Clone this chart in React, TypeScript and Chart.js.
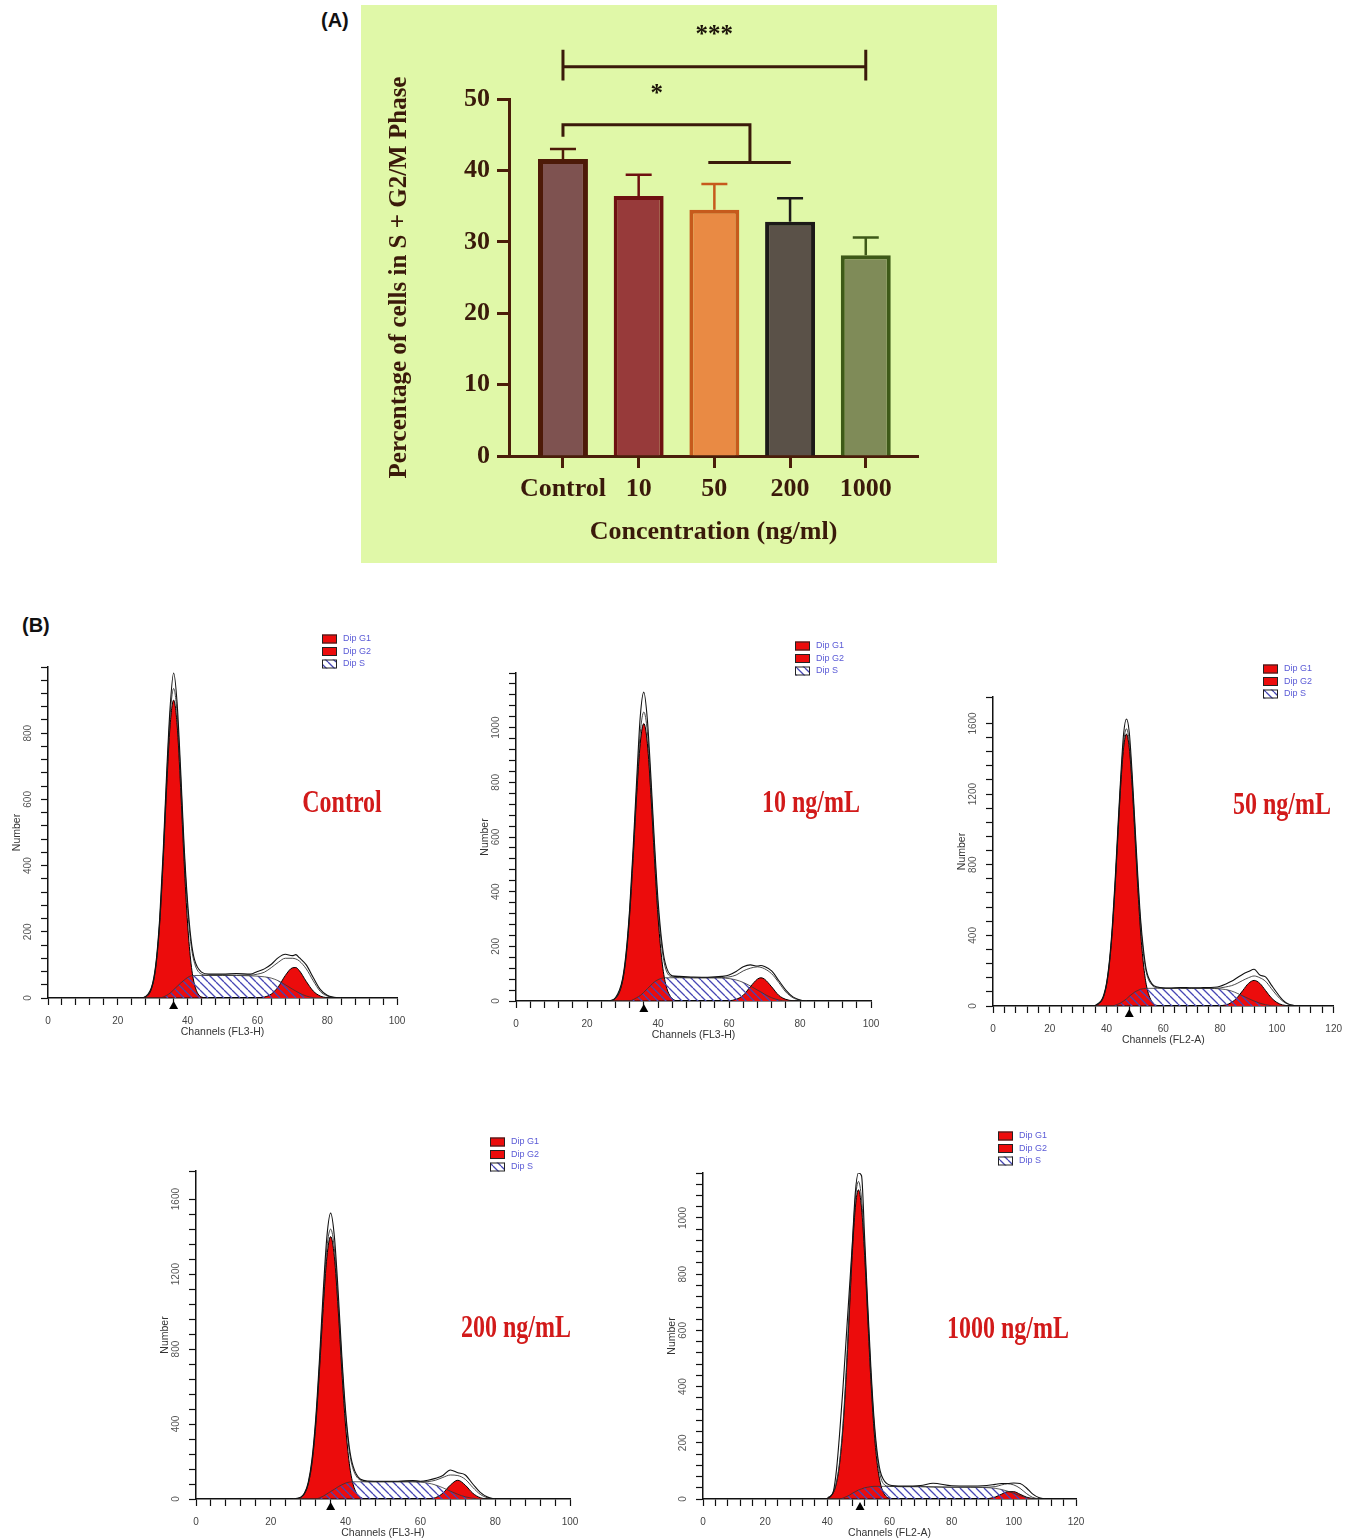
import React, { useEffect, useRef } from 'react';
import { Chart, registerables } from 'chart.js';

Chart.register(...registerables);

const SERIF = '"Liberation Serif", "Times New Roman", serif';
const SANS = '"Liberation Sans", Arial, sans-serif';
const INK = '#3a1a0a';
const AXIS = '#4a1e0a';
const RED = '#ec0c0c';

// ---------------- Panel A data ----------------
const CATEGORIES = ['Control', '10', '50', '200', '1000'];
const MEAN_PCT = [41.6, 36.4, 34.5, 32.8, 28.1];
const SEM_PCT = [1.4, 3.0, 3.6, 3.3, 2.5];
const BAR_FILLS = ['#7e5250', '#973a3a', '#e98a44', '#5a5148', '#7f8b58'];
const BAR_EDGES = ['#4d1a08', '#6e1010', '#c65a1c', '#1c1a18', '#3e5a18'];
const BAR_EDGE_W = [5, 4, 4, 4, 4];
// significance brackets (category positions, percentage levels)
const WIDE_BRACKET = [0, 4, 54.5, 56.9, 52.6]; // from, to, level, capTop, capBottom
const WIDE_STARS = ['***', 2, 59.5];
const NARROW_BRACKET = [0, 2.47, 46.4, 44.7, 41.1, 1.92, 3.01]; // from, to, level, leftLeg, lowLevel, lowFrom, lowTo
const NARROW_STARS = ['*', 1.24, 51.2];

// ---------------- Panel B data ----------------
const LEGEND_NAMES = ['Dip G1', 'Dip G2', 'Dip S'];

const CTRL_CH = [26, 28, 30, 31, 32, 33, 34, 35, 36, 37, 38, 39, 40, 41, 42, 44, 46, 50, 54, 58, 60, 62, 64, 66, 68, 70, 71, 72, 74, 76, 78, 80, 82, 84];
const CTRL_G1 = [0, 3, 40, 103, 224, 412, 636, 825, 900, 825, 636, 412, 224, 103, 40, 3, 0, 0, 0, 0, 0, 0, 0, 0, 0, 0, 0, 0, 0, 0, 0, 0, 0, 0];
const CTRL_S = [0, 0, 0, 0, 0, 3, 8, 15, 25, 35, 45, 54, 62, 67, 68, 68, 68, 68, 68, 67, 66, 64, 60, 52, 40, 27, 21, 15, 6, 1, 0, 0, 0, 0];
const CTRL_G2 = [0, 0, 0, 0, 0, 0, 0, 0, 0, 0, 0, 0, 0, 0, 0, 0, 0, 0, 0, 0, 1, 3, 12, 34, 68, 91, 92, 83, 50, 21, 6, 1, 0, 0];
const CTRL_DATA = [0, 5, 45, 112, 240, 440, 680, 880, 982, 890, 690, 460, 290, 175, 115, 78, 72, 72, 74, 72, 80, 88, 102, 122, 132, 128, 131, 122, 100, 62, 26, 8, 2, 0];
const CTRL_FIT = [0, 4, 43, 108, 232, 428, 660, 855, 935, 858, 668, 445, 270, 160, 105, 72, 69, 69, 69, 69, 72, 78, 92, 108, 120, 120, 118, 112, 88, 52, 20, 6, 1, 0];

const C10_CH = [26, 28, 30, 31, 32, 33, 34, 35, 36, 37, 38, 39, 40, 41, 42, 44, 46, 50, 54, 58, 60, 62, 64, 66, 68, 69, 70, 72, 74, 76, 78, 80, 82];
const C10_G1 = [0, 9, 71, 160, 311, 522, 755, 943, 1015, 943, 755, 522, 311, 160, 71, 9, 0, 0, 0, 0, 0, 0, 0, 0, 0, 0, 0, 0, 0, 0, 0, 0, 0];
const C10_S = [0, 0, 0, 0, 0, 5, 12, 20, 32, 45, 58, 70, 78, 83, 85, 85, 85, 85, 85, 84, 82, 77, 68, 55, 40, 33, 25, 12, 4, 0, 0, 0, 0];
const C10_G2 = [0, 0, 0, 0, 0, 0, 0, 0, 0, 0, 0, 0, 0, 0, 0, 0, 0, 0, 0, 0, 1, 6, 21, 52, 80, 85, 80, 52, 21, 6, 1, 0, 0];
const C10_DATA = [0, 12, 80, 175, 335, 560, 810, 1040, 1130, 1030, 820, 580, 370, 225, 140, 92, 90, 88, 87, 90, 95, 108, 125, 132, 128, 130, 126, 110, 75, 40, 15, 4, 0];
const C10_FIT = [0, 10, 76, 168, 325, 540, 780, 980, 1057, 985, 790, 555, 345, 205, 125, 88, 86, 85, 85, 86, 88, 95, 110, 120, 125, 123, 118, 100, 68, 33, 12, 3, 0];

const C50_CH = [36, 38, 39, 40, 41, 42, 43, 44, 45, 46, 47, 48, 49, 50, 51, 52, 53, 54, 56, 58, 62, 66, 70, 74, 78, 80, 82, 84, 86, 88, 90, 92, 94, 96, 98, 100, 102, 104, 106, 108];
const C50_G1 = [2, 23, 55, 120, 237, 419, 670, 964, 1251, 1462, 1540, 1462, 1251, 964, 670, 419, 237, 120, 23, 3, 0, 0, 0, 0, 0, 0, 0, 0, 0, 0, 0, 0, 0, 0, 0, 0, 0, 0, 0, 0];
const C50_S = [0, 0, 0, 0, 0, 0, 4, 10, 18, 28, 40, 55, 68, 80, 88, 95, 98, 100, 100, 100, 100, 100, 100, 100, 99, 97, 93, 85, 72, 57, 42, 28, 16, 7, 2, 0, 0, 0, 0, 0];
const C50_G2 = [0, 0, 0, 0, 0, 0, 0, 0, 0, 0, 0, 0, 0, 0, 0, 0, 0, 0, 0, 0, 0, 0, 0, 0, 0, 2, 6, 20, 47, 88, 128, 145, 128, 88, 47, 20, 6, 2, 0, 0];
const C50_DATA = [3, 28, 62, 130, 255, 445, 705, 1010, 1300, 1540, 1625, 1550, 1320, 1030, 740, 490, 320, 205, 125, 108, 102, 105, 103, 104, 106, 112, 125, 140, 160, 180, 195, 208, 175, 165, 120, 75, 35, 12, 3, 0];
const C50_FIT = [2, 25, 58, 125, 245, 432, 688, 985, 1275, 1490, 1570, 1495, 1285, 1000, 710, 465, 295, 190, 118, 104, 100, 100, 100, 100, 100, 102, 108, 115, 128, 145, 160, 170, 160, 140, 100, 60, 28, 10, 2, 0];

const C200_CH = [26, 28, 29, 30, 31, 32, 33, 34, 35, 36, 37, 38, 39, 40, 41, 42, 44, 46, 50, 54, 58, 60, 62, 64, 66, 68, 70, 72, 74, 76, 78, 80];
const C200_G1 = [0, 8, 28, 79, 189, 389, 682, 1017, 1292, 1400, 1292, 1017, 682, 389, 189, 79, 8, 0, 0, 0, 0, 0, 0, 0, 0, 0, 0, 0, 0, 0, 0, 0];
const C200_S = [0, 0, 0, 0, 0, 0, 6, 15, 27, 40, 52, 65, 76, 85, 90, 92, 92, 92, 92, 92, 92, 90, 85, 75, 60, 42, 25, 12, 4, 0, 0, 0];
const C200_G2 = [0, 0, 0, 0, 0, 0, 0, 0, 0, 0, 0, 0, 0, 0, 0, 0, 0, 0, 0, 0, 0, 0, 1, 7, 31, 74, 100, 74, 31, 7, 1, 0];
const C200_DATA = [0, 10, 32, 88, 210, 425, 740, 1100, 1400, 1525, 1400, 1110, 760, 470, 275, 175, 105, 96, 95, 95, 98, 95, 100, 110, 125, 155, 140, 128, 80, 35, 10, 0];
const C200_FIT = [0, 9, 30, 84, 200, 408, 712, 1058, 1340, 1440, 1335, 1060, 730, 445, 255, 160, 100, 92, 92, 92, 92, 92, 93, 100, 115, 128, 125, 105, 62, 25, 6, 0];

const C1000_CH = [40, 42, 43, 44, 45, 46, 47, 48, 49, 50, 51, 52, 53, 54, 55, 56, 57, 58, 60, 64, 70, 74, 80, 86, 90, 94, 96, 98, 100, 102, 104, 106, 108, 110];
const C1000_G1 = [3, 24, 60, 130, 249, 425, 644, 867, 1036, 1100, 1036, 867, 644, 425, 249, 130, 60, 24, 3, 0, 0, 0, 0, 0, 0, 0, 0, 0, 0, 0, 0, 0, 0, 0];
const C1000_S = [0, 0, 0, 0, 3, 8, 13, 20, 26, 32, 36, 40, 42, 44, 45, 45, 45, 45, 45, 44, 44, 43, 42, 42, 41, 38, 34, 28, 20, 12, 5, 1, 0, 0];
const C1000_G2 = [0, 0, 0, 0, 0, 0, 0, 0, 0, 0, 0, 0, 0, 0, 0, 0, 0, 0, 0, 0, 0, 0, 0, 0, 0, 7, 17, 26, 26, 17, 7, 2, 0, 0];
const C1000_DATA = [0, 30, 110, 240, 390, 560, 730, 900, 1090, 1160, 1150, 930, 690, 470, 290, 170, 100, 70, 50, 46, 48, 56, 47, 46, 47, 52, 55, 55, 57, 55, 40, 18, 5, 0];
const C1000_FIT = [3, 26, 64, 138, 262, 445, 670, 895, 1065, 1130, 1068, 895, 670, 450, 275, 155, 85, 55, 45, 44, 44, 43, 42, 42, 42, 44, 50, 54, 50, 38, 20, 6, 1, 0];

type PanelCfg = {
  area: number[]; // [left, top, right, bottom] of plot area on the page
  ch: number[]; g1: number[]; s: number[]; g2: number[]; data: number[]; fit: number[];
  xMax: number; yMax: number; yMinor: number; yMajor: number;
  xTitle: string; label: string; labelPos: number[]; legendPos: number[]; marker: number;
};

const PANELS: PanelCfg[] = [
  { area: [48, 667, 397, 998], ch: CTRL_CH, g1: CTRL_G1, s: CTRL_S, g2: CTRL_G2, data: CTRL_DATA, fit: CTRL_FIT,
    xMax: 100, yMax: 1000, yMinor: 40, yMajor: 200, xTitle: 'Channels (FL3-H)', label: 'Control',
    labelPos: [342, 804], legendPos: [322, 639], marker: 36 },
  { area: [516, 673, 871, 1001], ch: C10_CH, g1: C10_G1, s: C10_S, g2: C10_G2, data: C10_DATA, fit: C10_FIT,
    xMax: 100, yMax: 1200, yMinor: 40, yMajor: 200, xTitle: 'Channels (FL3-H)', label: '10 ng/mL',
    labelPos: [811, 804], legendPos: [795, 646], marker: 36 },
  { area: [993, 697, 1336, 1006], ch: C50_CH, g1: C50_G1, s: C50_S, g2: C50_G2, data: C50_DATA, fit: C50_FIT,
    xMax: 120, yMax: 1750, yMinor: 80, yMajor: 400, xTitle: 'Channels (FL2-A)', label: '50 ng/mL',
    labelPos: [1282, 806], legendPos: [1263, 669], marker: 48 },
  { area: [196, 1171, 570, 1499], ch: C200_CH, g1: C200_G1, s: C200_S, g2: C200_G2, data: C200_DATA, fit: C200_FIT,
    xMax: 100, yMax: 1750, yMinor: 80, yMajor: 400, xTitle: 'Channels (FL3-H)', label: '200 ng/mL',
    labelPos: [516, 1329], legendPos: [490, 1142], marker: 36 },
  { area: [703, 1173, 1076, 1499], ch: C1000_CH, g1: C1000_G1, s: C1000_S, g2: C1000_G2, data: C1000_DATA, fit: C1000_FIT,
    xMax: 120, yMax: 1160, yMinor: 40, yMajor: 200, xTitle: 'Channels (FL2-A)', label: '1000 ng/mL',
    labelPos: [1008, 1330], legendPos: [998, 1136], marker: 50.5 },
];

function makeHatch(ctx: CanvasRenderingContext2D) {
  const c = document.createElement('canvas');
  c.width = 8; c.height = 8;
  const g = c.getContext('2d')!;
  g.strokeStyle = '#4646b4';
  g.lineWidth = 1.3;
  g.beginPath();
  for (const k of [-8, 0, 8]) { g.moveTo(k, 0); g.lineTo(k + 8, 8); }
  g.stroke();
  return ctx.createPattern(c, 'repeat')!;
}

function PanelA() {
  const ref = useRef<HTMLCanvasElement>(null);
  useEffect(() => {
    const canvas = ref.current!;
    const decor = {
      id: 'panelADecor',
      afterDatasetsDraw(chart: any) {
        const { ctx, scales } = chart;
        const x = scales.x, y = scales.y;
        const meta = chart.getDatasetMeta(0);
        const px = (c: number) => x.getPixelForValue(c);
        const py = (v: number) => y.getPixelForValue(v);
        ctx.save();
        meta.data.forEach((bar: any, i: number) => {
          const top = py(MEAN_PCT[i]);
          const hi = py(MEAN_PCT[i] + SEM_PCT[i]);
          ctx.strokeStyle = BAR_EDGES[i];
          ctx.lineWidth = 2.5;
          ctx.beginPath();
          ctx.moveTo(bar.x, top); ctx.lineTo(bar.x, hi);
          ctx.moveTo(bar.x - 13, hi); ctx.lineTo(bar.x + 13, hi);
          ctx.stroke();
        });
        ctx.strokeStyle = INK;
        ctx.lineWidth = 3;
        ctx.beginPath();
        const [wf, wt, wl, wct, wcb] = WIDE_BRACKET;
        ctx.moveTo(px(wf), py(wct)); ctx.lineTo(px(wf), py(wcb));
        ctx.moveTo(px(wt), py(wct)); ctx.lineTo(px(wt), py(wcb));
        ctx.moveTo(px(wf), py(wl)); ctx.lineTo(px(wt), py(wl));
        const [nf, nt, nl, nleg, nlow, nlf, nlt] = NARROW_BRACKET;
        ctx.moveTo(px(nf), py(nleg)); ctx.lineTo(px(nf), py(nl)); ctx.lineTo(px(nt), py(nl)); ctx.lineTo(px(nt), py(nlow));
        ctx.moveTo(px(nlf), py(nlow)); ctx.lineTo(px(nlt), py(nlow));
        ctx.stroke();
        ctx.fillStyle = '#1a1208';
        ctx.font = `bold 25px ${SERIF}`;
        ctx.textAlign = 'center';
        ctx.textBaseline = 'alphabetic';
        ctx.fillText(String(WIDE_STARS[0]), px(WIDE_STARS[1] as number), py(WIDE_STARS[2] as number) + 11);
        ctx.fillText(String(NARROW_STARS[0]), px(NARROW_STARS[1] as number), py(NARROW_STARS[2] as number) + 11);
        ctx.restore();
      },
    };
    const font = (size: number) => ({ family: SERIF, size, weight: 'bold' as const });
    const chart = new Chart(canvas, {
      type: 'bar',
      data: {
        datasets: [{
          data: CATEGORIES.map((_, i) => ({ x: i, y: MEAN_PCT[i] })),
          backgroundColor: BAR_FILLS,
          borderColor: BAR_EDGES,
          borderWidth: BAR_EDGE_W,
          barPercentage: 0.66,
          categoryPercentage: 1,
        } as any],
      },
      options: {
        animation: false,
        responsive: false,
        devicePixelRatio: 1,
        layout: { padding: { left: 20, top: 94, right: 79, bottom: 7 } },
        plugins: { legend: { display: false }, tooltip: { enabled: false } },
        scales: {
          x: {
            type: 'linear', min: -0.713, max: 4.69, offset: false,
            afterBuildTicks: (s: any) => { s.ticks = CATEGORIES.map((_, i) => ({ value: i })); },
            afterFit: (s: any) => { s.height = 100; },
            ticks: { autoSkip: false, maxRotation: 0, padding: 6, color: INK, font: font(26),
              callback: (v: any) => CATEGORIES[Number(v)] ?? '' },
            grid: { offset: false, drawOnChartArea: false, drawTicks: true, tickLength: 12, tickWidth: 3, tickColor: AXIS },
            border: { display: true, color: AXIS, width: 3 },
            title: { display: true, text: 'Concentration (ng/ml)', color: INK, font: font(26), padding: { top: 0, bottom: 8 } },
          },
          y: {
            min: 0, max: 50,
            afterFit: (s: any) => { s.width = 128; },
            ticks: { stepSize: 10, padding: 7, color: INK, font: font(26) },
            grid: { drawOnChartArea: false, drawTicks: true, tickLength: 12, tickWidth: 3, tickColor: AXIS },
            border: { display: true, color: AXIS, width: 3 },
            title: { display: true, text: 'Percentage of cells in S + G2/M Phase', color: INK, font: font(25), padding: { top: 4, bottom: 0 } },
          },
        },
      } as any,
      plugins: [decor],
    });
    return () => chart.destroy();
  }, []);
  return (
    <div style={{ position: 'absolute', left: 361, top: 5, width: 636, height: 558, background: '#e0f8a8' }}>
      <canvas ref={ref} width={636} height={558} style={{ position: 'absolute', left: 0, top: 0, width: 636, height: 558 }} />
    </div>
  );
}

function FlowPanel({ cfg }: { cfg: PanelCfg }) {
  const ref = useRef<HTMLCanvasElement>(null);
  const [L, T, R, B] = cfg.area;
  const padL = Math.min(55, L);
  const padR = Math.min(20, 1352 - R);
  const left = L - padL;
  const top = T - 45;
  const width = R - L + padL + padR;
  const height = B - T + 90;
  useEffect(() => {
    const canvas = ref.current!;
    const ctx0 = canvas.getContext('2d')!;
    const hatch = makeHatch(ctx0);
    const pts = (arr: number[]) => cfg.ch.map((c, i) => ({ x: c, y: arr[i] }));
    const decor = {
      id: 'flowDecor',
      afterDraw(chart: any) {
        const { ctx, chartArea: ca, scales } = chart;
        const x = scales.x, y = scales.y;
        ctx.save();
        ctx.fillStyle = '#555';
        ctx.font = `10px ${SANS}`;
        ctx.textAlign = 'center';
        ctx.textBaseline = 'middle';
        for (const t of y.ticks) {
          if (t.value % cfg.yMajor !== 0 || t.value >= cfg.yMax) continue;
          const py = y.getPixelForValue(t.value);
          ctx.save();
          ctx.translate(ca.left - 20, py);
          ctx.rotate(-Math.PI / 2);
          ctx.fillText(String(t.value), 0, 0);
          ctx.restore();
        }
        ctx.fillStyle = '#333';
        ctx.font = `10.5px ${SANS}`;
        ctx.save();
        ctx.translate(ca.left - 31, (ca.top + ca.bottom) / 2);
        ctx.rotate(-Math.PI / 2);
        ctx.fillText('Number', 0, 0);
        ctx.restore();
        ctx.fillText(cfg.xTitle, (ca.left + ca.right) / 2, ca.bottom + 34);
        // marker triangle
        const mx = x.getPixelForValue(cfg.marker);
        ctx.fillStyle = '#000';
        ctx.beginPath();
        ctx.moveTo(mx, ca.bottom + 3);
        ctx.lineTo(mx - 4.5, ca.bottom + 11);
        ctx.lineTo(mx + 4.5, ca.bottom + 11);
        ctx.closePath();
        ctx.fill();
        // legend
        const lx = cfg.legendPos[0] - left;
        const ly = cfg.legendPos[1] - top;
        LEGEND_NAMES.forEach((name, i) => {
          const by = ly + i * 12.5 - 4.5;
          if (i < 2) {
            ctx.fillStyle = RED; ctx.fillRect(lx, by, 15, 9);
          } else {
            ctx.fillStyle = '#fff'; ctx.fillRect(lx, by, 15, 9);
            ctx.fillStyle = hatch; ctx.fillRect(lx, by, 15, 9);
          }
          ctx.strokeStyle = '#222'; ctx.lineWidth = 1;
          ctx.strokeRect(lx + 0.5, by + 0.5, 14, 8);
          ctx.fillStyle = '#5a5ad6';
          ctx.font = `9px ${SANS}`;
          ctx.textAlign = 'left';
          ctx.fillText(name, lx + 21, by + 4.5);
        });
        // condition label
        ctx.save();
        ctx.translate(cfg.labelPos[0] - left, cfg.labelPos[1] - top);
        ctx.scale(0.75, 1);
        ctx.font = `bold 32px ${SERIF}`;
        ctx.fillStyle = '#d21a1a';
        ctx.textAlign = 'center';
        ctx.textBaseline = 'middle';
        ctx.fillText(cfg.label, 0, 0);
        ctx.restore();
        ctx.restore();
      },
    };
    const chart = new Chart(canvas, {
      type: 'line',
      data: {
        datasets: [
          { data: pts(cfg.data), borderColor: '#111', borderWidth: 1.1, fill: false },
          { data: pts(cfg.fit), borderColor: '#333', borderWidth: 0.9, fill: false },
          { data: pts(cfg.s), borderColor: '#333', borderWidth: 0.8, fill: 'origin', backgroundColor: hatch },
          { data: pts(cfg.g2), borderColor: '#000', borderWidth: 1, fill: 'origin', backgroundColor: RED },
          { data: pts(cfg.g1), borderColor: '#000', borderWidth: 1, fill: 'origin', backgroundColor: RED },
        ] as any,
      },
      options: {
        animation: false,
        responsive: false,
        devicePixelRatio: 1,
        elements: { point: { radius: 0 }, line: { cubicInterpolationMode: 'monotone' } },
        layout: { padding: { left: 0, top: 45, right: padR, bottom: 0 } },
        plugins: { legend: { display: false }, tooltip: { enabled: false } },
        scales: {
          x: {
            type: 'linear', min: 0, max: cfg.xMax,
            afterFit: (s: any) => { s.height = 45; },
            ticks: { stepSize: 4, autoSkip: false, maxRotation: 0, padding: 10, color: '#444',
              font: { family: SANS, size: 10 },
              callback: (v: any) => (Number(v) % 20 === 0 ? String(v) : '') },
            grid: { drawOnChartArea: false, drawTicks: true, tickLength: 7, tickWidth: 1.2, tickColor: '#111' },
            border: { display: true, color: '#111', width: 1.5 },
          },
          y: {
            type: 'linear', min: 0, max: cfg.yMax,
            afterFit: (s: any) => { s.width = padL; },
            ticks: { stepSize: cfg.yMinor, autoSkip: false, padding: 0, callback: () => '' },
            grid: { drawOnChartArea: false, drawTicks: true, tickLength: 7, tickWidth: 1.2, tickColor: '#111' },
            border: { display: true, color: '#111', width: 1.5 },
          },
        },
      } as any,
      plugins: [decor],
    });
    return () => chart.destroy();
  }, []);
  return <canvas ref={ref} width={width} height={height} style={{ position: 'absolute', left, top, width, height }} />;
}

export default function App() {
  const tag = { position: 'absolute' as const, font: `bold 20px ${SANS}`, color: '#111', lineHeight: '20px' };
  return (
    <div style={{ position: 'absolute', left: 0, top: 0, width: 1353, height: 1539, overflow: 'hidden', background: '#fff' }}>
      <div style={{ ...tag, left: 321, top: 10 }}>(A)</div>
      <PanelA />
      <div style={{ ...tag, left: 22, top: 615 }}>(B)</div>
      {PANELS.map((p) => <FlowPanel key={p.label} cfg={p} />)}
    </div>
  );
}
